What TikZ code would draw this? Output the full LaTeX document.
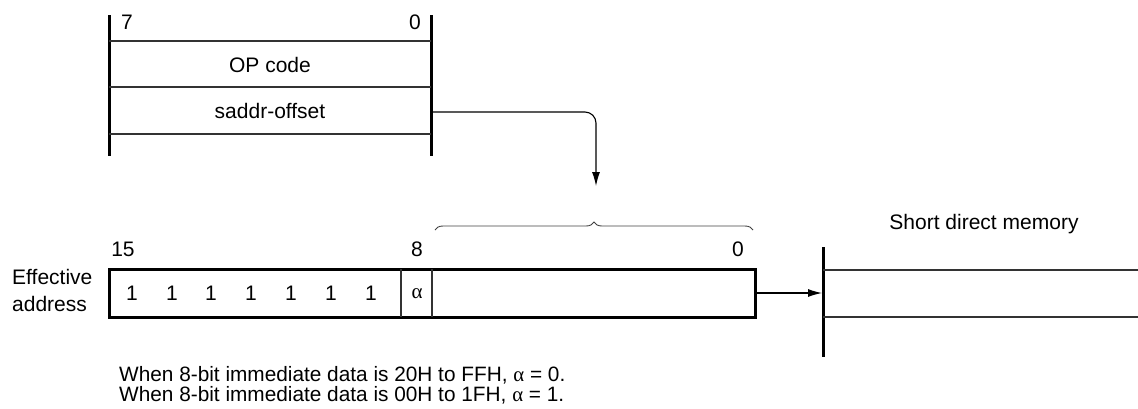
\documentclass[tikz,border=0pt]{standalone}
\usepackage{fontspec}
\setmainfont{Liberation Sans}
\newfontfamily\alphafont{Liberation Serif}
\newcommand{\alf}{{\alphafont α}}
\usetikzlibrary{arrows.meta,decorations.pathreplacing}
\begin{document}
\begin{tikzpicture}[x=1pt,y=-1pt,
  lbl/.style={inner sep=0pt,font=\fontsize{21}{24}\selectfont},
  note/.style={inner sep=0pt,font=\fontsize{20.8}{20}\selectfont,anchor=base west},
  heavy/.style={line width=3pt},
  thinline/.style={line width=1.1pt,black!80},
  arr/.style={line width=1.1pt,-{Latex[length=14pt,width=8pt]}}]
\useasboundingbox (0,0) rectangle (1138,408);
% top register
\draw[heavy] (109,15) -- (109,156);
\draw[heavy] (431,15) -- (431,156);
\draw[thinline] (109,41) -- (431,41);
\draw[thinline] (109,87) -- (431,87);
\draw[thinline] (109,134) -- (431,134);
\node[lbl,anchor=base] (b7) at (127,29) {7};
\node[lbl,anchor=base] (b0t) at (415,29) {0};
\node[lbl] (op) at (270,65) {OP code};
\node[lbl] (sa) at (270,111) {saddr-offset};
\coordinate (saddrR) at (432,112);
\coordinate (tip) at (596,186);
\draw[arr,rounded corners=11pt] (saddrR) -| (tip);
% brace
\coordinate (brL) at (435,230);
\coordinate (brR) at (753,230);
\draw[line width=0.9pt,black!75,decorate,decoration={brace,amplitude=8pt}] (brL) -- (brR);
% effective address
\node[lbl,anchor=base] (n15) at (123,256) {15};
\node[lbl,anchor=base] (n8) at (417,256) {8};
\node[lbl,anchor=base] (n0) at (738,256) {0};
\node[lbl,anchor=base west] (eff) at (12,284.5) {Effective};
\node[lbl,anchor=base west] (addr) at (12,311) {address};
\node[draw,heavy,minimum width=646pt,minimum height=48pt,inner sep=0pt] (ea) at (432,293) {};
\draw[thinline] (401,269) -- (401,317);
\draw[thinline] (432,269) -- (432,317);
\foreach \i/\xx in {1/132,2/172,3/211,4/251,5/291,6/331,7/371}
  \node[lbl] (one\i) at (\xx,293) {1};
\node[lbl] (alpha) at (417,294) {\alf};
% memory
\coordinate (mem) at (822,293);
\draw[arr] (ea.east) -- (mem);
\draw[heavy] (823,247) -- (823,357);
\draw[thinline] (823,270) -- (1138,270);
\draw[thinline] (823,317) -- (1138,317);
\node[lbl,anchor=base] (sdm) at (984,229) {Short direct memory};
% notes
\node[note] (t1) at (119,381) {When 8-bit immediate data is 20H to FFH, \alf{} = 0.};
\node[note] (t2) at (119,401) {When 8-bit immediate data is 00H to 1FH, \alf{} = 1.};
\end{tikzpicture}
\end{document}
